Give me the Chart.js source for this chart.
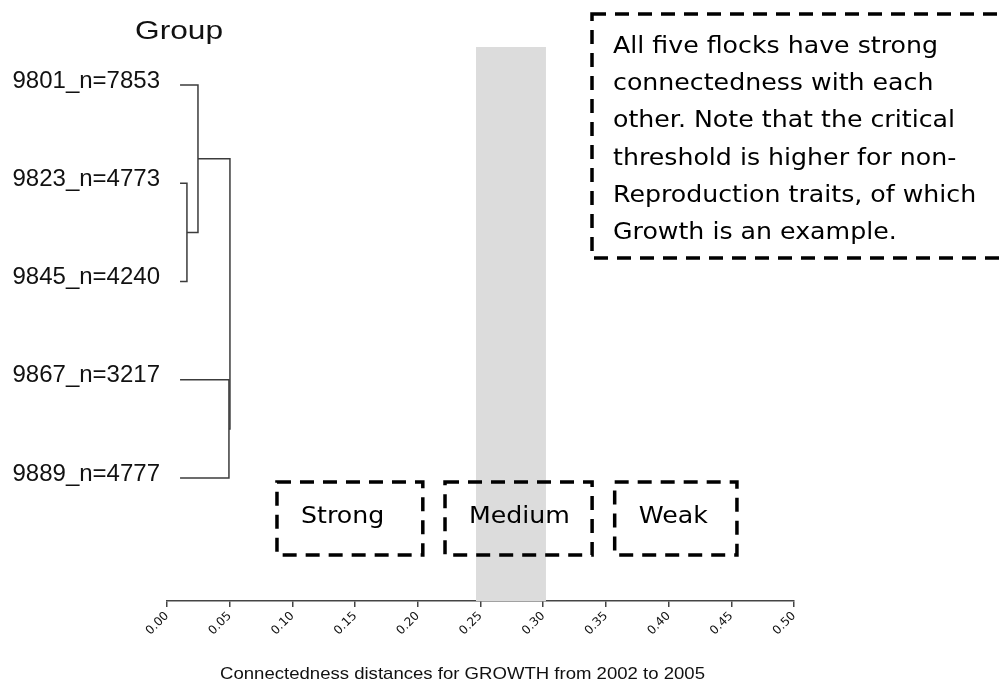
<!DOCTYPE html>
<html>
<head>
<meta charset="utf-8">
<script src="https://cdn.jsdelivr.net/npm/chart.js@4.4.0/dist/chart.umd.min.js"></script>
<style>
  body { margin: 0; background: #fff; }
  #wrap { width: 1006px; height: 682px; position: relative; }
</style>
</head>
<body>
<div id="wrap"><canvas id="chart"></canvas></div>
<script>
// Leaves of the dendrogram (top to bottom)
const leafNames = ['9801_n=7853', '9823_n=4773', '9845_n=4240', '9867_n=3217', '9889_n=4777'];
const leafBase = [0.0104, 0.0104, 0.0104, 0.0104, 0.0104];

// Merges: node 5+i joins mergeA[i] and mergeB[i] at mergeHeight[i]
const mergeA = [1, 0, 3, 6];
const mergeB = [2, 5, 4, 7];
const mergeHeight = [0.0159, 0.0247, 0.0494, 0.0502];

// Critical threshold band and the three connectedness classes
const bandRange = [0.2464, 0.3022];
const classLabels = ['Strong', 'Medium', 'Weak'];
const classStart = [0.0877, 0.2217, 0.357];
const classEnd = [0.204, 0.339, 0.4545];

const noteLines = [
    'All five flocks have strong',
    'connectedness with each',
    'other. Note that the critical',
    'threshold is higher for non-',
    'Reproduction traits, of which',
    'Growth is an example.'
];

// Build node positions and the bracket paths
const nodeX = leafBase.slice();
const nodeY = leafNames.map((_, i) => i);
const datasets = [];
mergeHeight.forEach((h, i) => {
    const a = mergeA[i], b = mergeB[i];
    datasets.push({
        data: [
            { x: nodeX[a], y: nodeY[a] },
            { x: h, y: nodeY[a] },
            { x: h, y: nodeY[b] },
            { x: nodeX[b], y: nodeY[b] }
        ],
        showLine: true,
        borderColor: '#3c3c3c',
        borderWidth: 1.5,
        pointRadius: 0,
        tension: 0
    });
    nodeX.push(h);
    nodeY.push((nodeY[a] + nodeY[b]) / 2);
});

// Draw text squeezed/stretched to a given width
function fitText(ctx, text, x, y, width) {
    const w = ctx.measureText(text).width;
    ctx.save();
    ctx.translate(x, y);
    ctx.scale(width / w, 1);
    ctx.fillText(text, 0, 0);
    ctx.restore();
}

function dashedRect(ctx, x0, y0, x1, y1) {
    ctx.save();
    ctx.strokeStyle = '#000';
    ctx.lineWidth = 3.5;
    ctx.setLineDash([14, 9]);
    ctx.strokeRect(x0, y0, x1 - x0, y1 - y0);
    ctx.restore();
}

const bandPlugin = {
    id: 'band',
    beforeDatasetsDraw(chart) {
        const { ctx, chartArea, scales } = chart;
        const x0 = scales.x.getPixelForValue(bandRange[0]);
        const x1 = scales.x.getPixelForValue(bandRange[1]);
        ctx.save();
        ctx.fillStyle = '#dcdcdc';
        ctx.fillRect(x0, chartArea.top, x1 - x0, chartArea.bottom - chartArea.top);
        ctx.restore();
    }
};

const notesPlugin = {
    id: 'notes',
    afterDraw(chart) {
        const { ctx, scales } = chart;
        ctx.save();
        ctx.fillStyle = '#111';
        ctx.textBaseline = 'alphabetic';

        // "Group" heading and axis title
        ctx.font = '26px "Liberation Sans", Arial, sans-serif';
        fitText(ctx, 'Group', 135, 39, 88);
        ctx.font = '17px "Liberation Sans", Arial, sans-serif';
        fitText(ctx, 'Connectedness distances for GROWTH from 2002 to 2005', 220, 679, 485);

        // big note box
        ctx.fillStyle = '#000';
        ctx.font = '23px "DejaVu Sans", sans-serif';
        const k = 325 / ctx.measureText(noteLines[0]).width;
        dashedRect(ctx, 592, 14, 1030, 258);
        noteLines.forEach((line, i) => {
            const w = ctx.measureText(line).width * k;
            fitText(ctx, line, 613, 53 + i * 37.2, w);
        });

        // class boxes
        classLabels.forEach((lab, i) => {
            const x0 = scales.x.getPixelForValue(classStart[i]);
            const x1 = scales.x.getPixelForValue(classEnd[i]);
            dashedRect(ctx, x0, 482, x1, 555);
            const w = ctx.measureText(lab).width * k;
            fitText(ctx, lab, x0 + 24, 523, w);
        });
        ctx.restore();
    }
};

new Chart(document.getElementById('chart'), {
    type: 'scatter',
    data: { datasets: datasets },
    options: {
        responsive: true,
        maintainAspectRatio: false,
        animation: false,
        layout: { padding: { top: 47, right: 212, bottom: 0, left: 0 } },
        plugins: {
            legend: { display: false },
            tooltip: { enabled: false }
        },
        scales: {
            x: {
                type: 'linear',
                min: 0,
                max: 0.5,
                afterFit: (scale) => { scale.height = 81; },
                ticks: {
                    stepSize: 0.05,
                    minRotation: 45,
                    maxRotation: 45,
                    padding: 2,
                    color: '#111',
                    font: { family: '"DejaVu Sans", sans-serif', size: 12 },
                    callback: (v) => Number(v).toFixed(2)
                },
                grid: {
                    display: true,
                    drawOnChartArea: false,
                    drawTicks: true,
                    tickLength: 6,
                    color: '#444',
                    lineWidth: 1.5
                },
                border: { display: true, color: '#444', width: 1.5 }
            },
            y: {
                type: 'linear',
                reverse: true,
                min: -0.387,
                max: 5.252,
                afterFit: (scale) => { scale.width = 167; },
                afterBuildTicks: (scale) => {
                    scale.ticks = leafNames.map((_, i) => ({ value: i }));
                },
                ticks: {
                    padding: 7,
                    labelOffset: -4,
                    color: '#111',
                    font: { family: '"Liberation Sans", Arial, sans-serif', size: 24 },
                    callback: (v) => leafNames[v]
                },
                grid: { display: false, drawTicks: false },
                border: { display: false }
            }
        }
    },
    plugins: [bandPlugin, notesPlugin]
});
</script>
</body>
</html>
